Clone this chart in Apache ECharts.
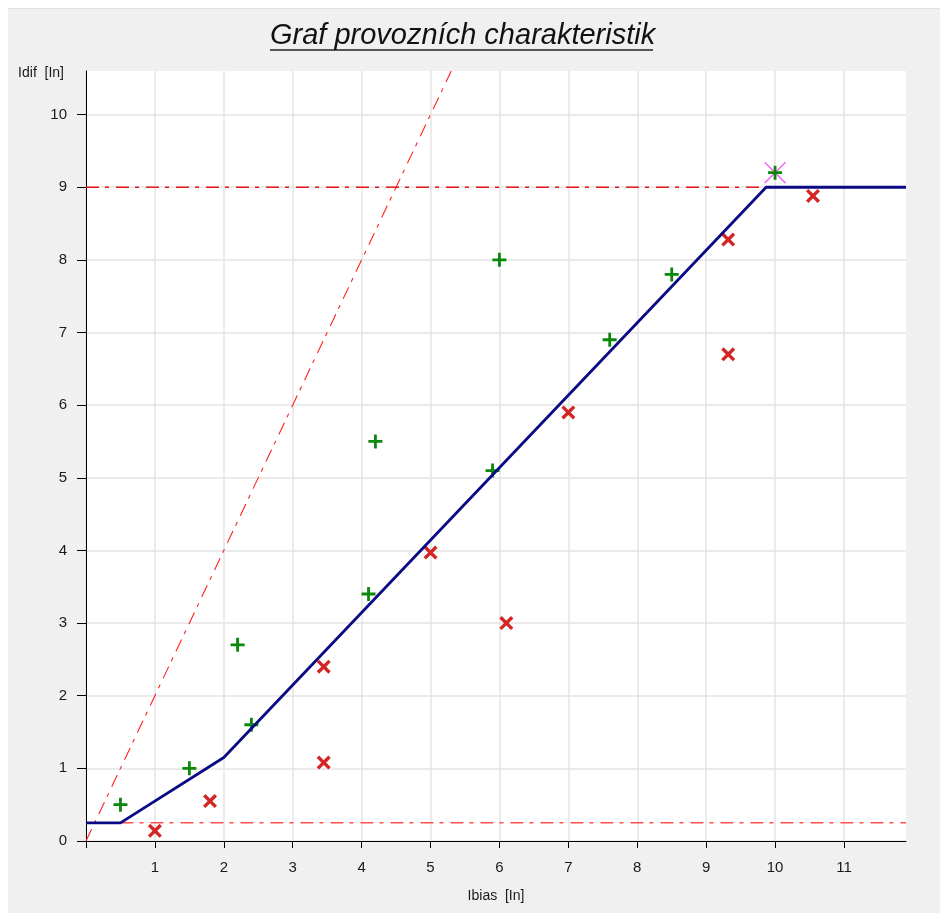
<!DOCTYPE html>
<html>
<head>
<meta charset="utf-8">
<script src="https://cdn.jsdelivr.net/npm/echarts@6/dist/echarts.min.js"></script>
<style>
  html, body { margin: 0; padding: 0; background: #ffffff; }
  #chart {
    position: absolute; left: 8px; top: 8px;
    width: 932px; height: 905px;
    background: #f0f0f0; border-top: 1px solid #e2e2e2;
    box-sizing: border-box;
  }
</style>
</head>
<body>
<div id="chart"></div>
<script>
// operating characteristic (Ibias, Idif)
var charLine = [[0, 0.25], [0.5, 0.25], [2, 1.15], [9.87, 9], [11.9, 9]];
// reference lines
var diagLine = [[0, 0], [5.3, 10.6]];
var limitHigh = [[0, 9], [9.87, 9]];
var limitLow = [[0.5, 0.25], [11.9, 0.25]];
// measured points: trip (green +) and no trip (red x)
var tripPoints = [[0.5, 0.5], [1.5, 1.0], [2.2, 2.7], [2.4, 1.6], [4.1, 3.4], [4.2, 5.5],
  [5.9, 5.1], [6.0, 8.0], [7.6, 6.9], [8.5, 7.8], [10.0, 9.2]];
var noTripPoints = [[1.0, 0.14], [1.8, 0.55], [3.45, 2.4], [3.45, 1.08], [5.0, 3.97],
  [6.1, 3.0], [7.0, 5.9], [9.32, 8.28], [9.32, 6.7], [10.55, 8.88]];
var selPoint = [[10.0, 9.2]];
var xTicks = [0, 1, 2, 3, 4, 5, 6, 7, 8, 9, 10, 11];
var xLabels = [1, 2, 3, 4, 5, 6, 7, 8, 9, 10, 11];
var yTicks = [0, 1, 2, 3, 4, 5, 6, 7, 8, 9, 10];

var plusPath = 'path://M0,5.6H14V8.4H0Z M5.6,0H8.4V14H5.6Z';
var crossPath = 'path://M0,1.7L1.7,0L10,8.3L8.3,10Z M8.3,0L10,1.7L1.7,10L0,8.3Z';
var thinCross = 'path://M0,0.5L0.5,0L10,9.5L9.5,10Z M9.5,0L10,0.5L0.5,10L0,9.5Z';
var dashDot = [13, 6, 4, 7];

var chart = echarts.init(document.getElementById('chart'));
chart.setOption({
  animation: false,
  backgroundColor: '#f0f0f0',
  title: {
    text: 'Graf provozních charakteristik',
    left: 262, top: 12, padding: 0,
    textStyle: { fontFamily: 'Liberation Sans', fontStyle: 'italic', fontWeight: 'normal', fontSize: 29, color: '#111' }
  },
  graphic: [{
    type: 'line', shape: { x1: 262, y1: 41, x2: 645, y2: 41 },
    style: { stroke: '#222', lineWidth: 1.5 }
  }],
  grid: { left: 78, top: 62, width: 820, height: 770, show: true, backgroundColor: '#ffffff', borderWidth: 0 },
  xAxis: {
    type: 'value', min: 0, max: 11.9, interval: 1,
    name: 'Ibias  [In]', nameLocation: 'middle', nameGap: 55,
    nameTextStyle: { fontFamily: 'Liberation Sans', fontSize: 14, color: '#1a1a1a', verticalAlign: 'middle' },
    axisLine: { onZero: false, lineStyle: { color: '#000', width: 1 } },
    axisTick: { show: true, length: 7, customValues: xTicks, lineStyle: { color: '#000' } },
    axisLabel: { customValues: xLabels, margin: 19, fontFamily: 'Liberation Sans', fontSize: 15, color: '#1a1a1a' },
    splitLine: { show: true, lineStyle: { color: '#e4e4e4', width: 1.5 } }
  },
  yAxis: {
    type: 'value', min: 0, max: 10.6, interval: 1,
    name: 'Idif  [In]', nameLocation: 'end', nameGap: -2,
    nameTextStyle: { fontFamily: 'Liberation Sans', fontSize: 14, color: '#1a1a1a', align: 'right', verticalAlign: 'middle', padding: [0, 22, 0, 0] },
    axisLine: { show: true, onZero: false, lineStyle: { color: '#000', width: 1 } },
    axisTick: { show: true, length: 9, customValues: yTicks, lineStyle: { color: '#000' } },
    axisLabel: { customValues: yTicks, margin: 19, fontFamily: 'Liberation Sans', fontSize: 15, color: '#1a1a1a' },
    splitLine: { show: true, lineStyle: { color: '#e4e4e4', width: 1.5 } }
  },
  series: [
    { type: 'line', data: diagLine, showSymbol: false, lineStyle: { color: '#ff2020', width: 1.1, type: dashDot } },
    { type: 'line', data: limitHigh, showSymbol: false, lineStyle: { color: '#e81818', width: 1.5, type: dashDot } },
    { type: 'line', data: limitLow, showSymbol: false, lineStyle: { color: '#ff5050', width: 1.5, type: dashDot } },
    { type: 'line', data: charLine, showSymbol: false, lineStyle: { color: '#0a0a84', width: 2.8 } },
    { type: 'scatter', data: selPoint, symbol: thinCross, symbolSize: 22, itemStyle: { color: '#f070f0', opacity: 1 } },
    { type: 'scatter', data: noTripPoints, symbol: crossPath, symbolSize: 14, itemStyle: { color: '#d42424', opacity: 1 } },
    { type: 'scatter', data: tripPoints, symbol: plusPath, symbolSize: 14, itemStyle: { color: '#0a880a', opacity: 1 } }
  ]
});
</script>
</body>
</html>
